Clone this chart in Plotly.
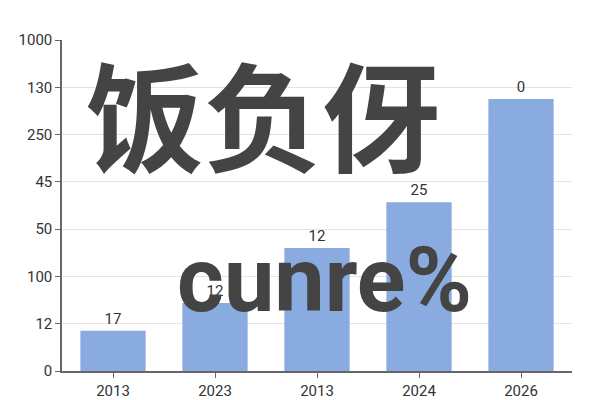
import plotly.graph_objects as go

# x軸ラベル（重複あり）
years = ["2013", "2023", "2013", "2024", "2026"]
# 棒の高さ（目盛り単位で読み取り）
bar_heights = [0.85, 1.44, 2.6, 3.57, 5.75]
# 棒の上のラベル
bar_labels = ["17", "12", "12", "25", "0"]
# y軸の目盛りラベル（下から）
ytick_labels = ["0", "12", "100", "50", "45", "250", "130", "1000"]

xpos = list(range(len(years)))
ypos = list(range(len(ytick_labels)))

fig = go.Figure()
fig.add_trace(go.Bar(
    x=xpos,
    y=bar_heights,
    text=bar_labels,
    textposition="outside",
    textfont=dict(size=15, color="#333333", family="Roboto"),
    marker=dict(color="#8aabe0", line=dict(width=0)),
    cliponaxis=False,
    showlegend=False,
))

# 重ね文字
fig.add_annotation(text="饭负伢", xref="paper", yref="paper", x=0.395, y=0.785,
                   showarrow=False, xanchor="center", yanchor="middle",
                   font=dict(size=118, color="#444444", family="Noto Sans CJK SC", weight="bold"))
fig.add_annotation(text="cunre%", xref="paper", yref="paper", x=0.514, y=0.272,
                   showarrow=False, xanchor="center", yanchor="middle",
                   font=dict(size=90, color="#444444", family="Roboto", weight="bold"))

fig.update_xaxes(range=[-0.5, 4.5], tickvals=xpos, ticktext=years,
                 showline=True, linecolor="#666666", linewidth=1.5,
                 ticks="outside", ticklen=5, tickcolor="#666666",
                 showgrid=False, automargin=False,
                 tickfont=dict(size=15, color="#333333", family="Roboto"))
fig.update_yaxes(range=[0, 7], tickvals=ypos, ticktext=ytick_labels,
                 showline=True, linecolor="#666666", linewidth=1.5,
                 ticks="outside", ticklen=5, tickcolor="#666666",
                 showgrid=True, gridcolor="#e3e3e3", zeroline=False,
                 automargin=False,
                 tickfont=dict(size=15, color="#333333", family="Roboto"))

# ページの余白(8px)分を差し引いた余白
fig.update_layout(
    width=600, height=400,
    margin=dict(l=54, r=36, t=32, b=37),
    bargap=0.36,
    plot_bgcolor="white",
    paper_bgcolor="white",
)

fig.write_html("out.html")
